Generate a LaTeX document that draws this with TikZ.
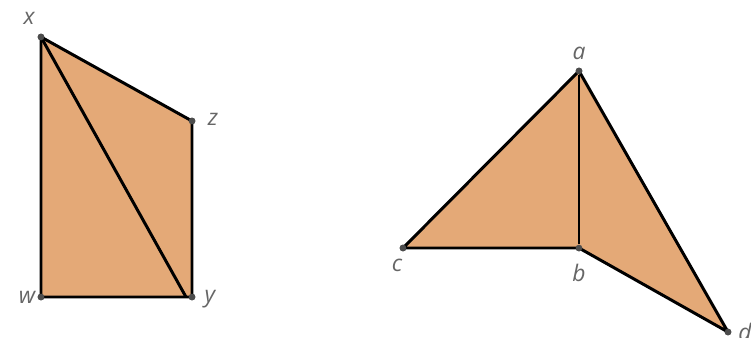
\documentclass[tikz,border=0pt]{standalone}
\usepackage{fontspec}
\setsansfont{Open Sans}
\usepackage{tikz}
\definecolor{facetan}{HTML}{E4A977}
\definecolor{labgray}{HTML}{666666}

\begin{document}
\begin{tikzpicture}[
  x=0.02cm, y=-0.02cm,
  every node/.style={font=\sffamily\itshape},
  pt/.style={circle, fill=black!70, inner sep=0pt, minimum size=3.8pt},
  lab/.style={text=labgray, font=\sffamily\itshape\fontsize{13}{13}\selectfont, inner sep=1pt},
  face/.style={fill=facetan, draw=none},
  edge/.style={draw=black, line width=1.7pt, line join=round}
]
\useasboundingbox (0,0) rectangle (751,338);

% left shape
\node[pt] (x) at (41,37) {};
\node[pt] (z) at (192,121) {};
\node[pt] (w) at (41,297) {};
\node[pt] (y) at (192,297) {};
\node[lab] at (29,18) {x};
\node[lab] at (213,119) {z};
\node[lab] at (27,297) {w};
\node[lab] at (210,299) {y};

\fill[face] (x.center) -- (z.center) -- (y.center) -- (w.center) -- cycle;
\draw[edge] (x.center) -- (z.center) -- (y.center) -- (w.center) -- cycle;
\draw[edge] (x.center) -- (186,297);

% right shape
\node[pt] (a) at (579,71) {};
\node[pt] (b) at (579,248) {};
\node[pt] (c) at (403,248) {};
\node[pt] (d) at (728,332) {};
\node[lab] at (579,53) {a};
\node[lab] at (397,265) {c};
\node[lab] at (579,273) {b};
\node[lab] at (745,332) {d};

\fill[face] (a.center) -- (c.center) -- (b.center) -- (d.center) -- cycle;
\draw[edge] (a.center) -- (c.center) -- (b.center) -- (d.center) -- cycle;
\draw[edge] (a) -- (b);

% redraw vertex dots on top
\foreach \v in {x,z,w,y,a,b,c,d} \node[pt] at (\v) {};
\end{tikzpicture}
\end{document}
